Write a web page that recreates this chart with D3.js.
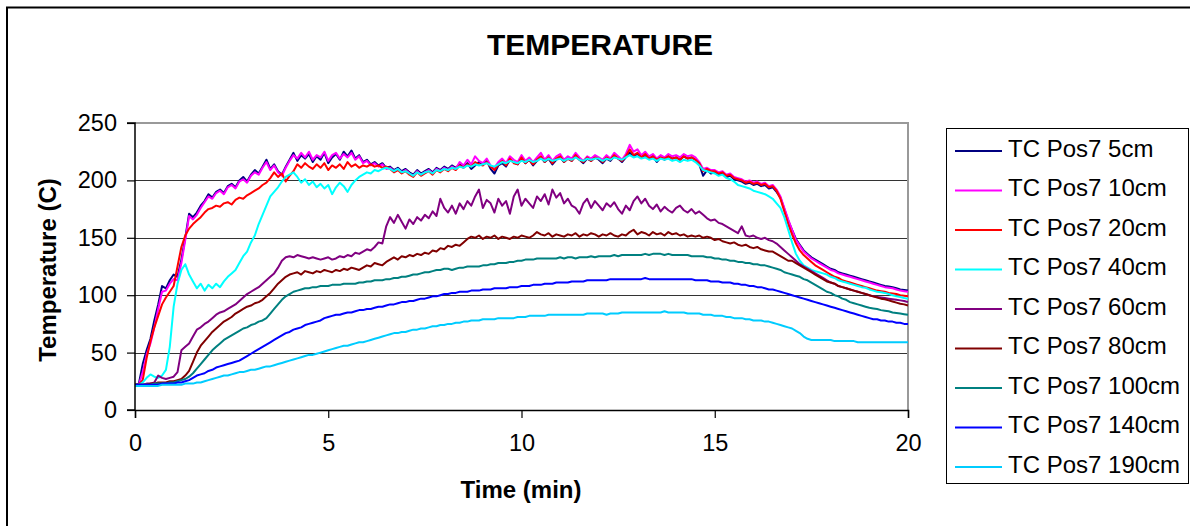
<!DOCTYPE html>
<html><head><meta charset="utf-8">
<script src="https://cdn.jsdelivr.net/npm/d3@7"></script>
<style>html,body{margin:0;padding:0;background:#fff;overflow:hidden}</style>
</head><body>
<svg id="chart" width="1190" height="526"></svg>
<script>
// ---- DATA ----
const timeMin = [
0,0.1,0.2,0.3,0.4,0.5,0.6,0.7,0.8,0.9,
1,1.1,1.2,1.3,1.4,1.5,1.6,1.7,1.8,1.9,
2,2.1,2.2,2.3,2.4,2.5,2.6,2.7,2.8,2.9,
3,3.1,3.2,3.3,3.4,3.5,3.6,3.7,3.8,3.9,
4,4.1,4.2,4.3,4.4,4.5,4.6,4.7,4.8,4.9,
5,5.1,5.2,5.3,5.4,5.5,5.6,5.7,5.8,5.9,
6,6.1,6.2,6.3,6.4,6.5,6.6,6.7,6.8,6.9,
7,7.1,7.2,7.3,7.4,7.5,7.6,7.7,7.8,7.9,
8,8.1,8.2,8.3,8.4,8.5,8.6,8.7,8.8,8.9,
9,9.1,9.2,9.3,9.4,9.5,9.6,9.7,9.8,9.9,
10,10.1,10.2,10.3,10.4,10.5,10.6,10.7,10.8,10.9,
11,11.1,11.2,11.3,11.4,11.5,11.6,11.7,11.8,11.9,
12,12.1,12.2,12.3,12.4,12.5,12.6,12.7,12.8,12.9,
13,13.1,13.2,13.3,13.4,13.5,13.6,13.7,13.8,13.9,
14,14.1,14.2,14.3,14.4,14.5,14.6,14.7,14.8,14.9,
15,15.1,15.2,15.3,15.4,15.5,15.6,15.7,15.8,15.9,
16,16.1,16.2,16.3,16.4,16.5,16.6,16.7,16.8,16.9,
17,17.1,17.2,17.3,17.4,17.5,17.6,17.7,17.8,17.9,
18,18.1,18.2,18.3,18.4,18.5,18.6,18.7,18.8,18.9,
19,19.1,19.2,19.3,19.4,19.5,19.6,19.7,19.8,19.9,
20];

const seriesNames = ["TC Pos7 5cm","TC Pos7 10cm","TC Pos7 20cm","TC Pos7 40cm","TC Pos7 60cm","TC Pos7 80cm","TC Pos7 100cm","TC Pos7 140cm","TC Pos7 190cm"];

const tc5 = [
22,23,40,52,62,78,92,108,106,113,
118,116,131,150,171,168,172,178,182,188,
185,190,192,189,195,197,194,200,203,199,
205,209,206,212,218,210,214,208,205,212,
218,224,217,222,219,223,216,221,218,224,
215,220,223,218,225,221,226,219,222,216,
218,214,216,213,215,211,212,209,211,208,
210,207,205,209,206,208,210,207,211,209,
212,210,213,211,214,212,215,210,213,216,
214,217,210,206,213,215,212,218,216,214,
219,215,218,213,217,220,216,219,214,218,
220,216,219,217,221,218,215,219,217,220,
218,215,219,217,221,219,216,220,224,221,
223,220,222,219,221,216,220,218,221,219,
220,218,221,219,220,218,214,204,209,206,
207,205,206,203,204,201,200,199,197,198,
196,197,195,196,193,194,190,185,175,165,
157,149,144,139,136,133,131,129,127,125,
123,122,120,119,118,117,116,115,114,113,
112,111,110,109,108,107.5,107,106,105,104.5,
104];

const tc10 = [
22,22,33,48,58,72,88,103,104,110,
114,113,128,148,169,166,170,176,181,186,
184,189,191,188,194,196,193,199,201,198,
204,207,205,211,216,209,213,207,204,211,
217,222,219,224,220,225,218,222,220,225,
217,222,224,219,223,220,224,218,221,215,
217,213,215,212,214,210,211,208,210,207,
209,206,204,208,205,207,209,206,210,208,
211,209,212,210,216,213,218,214,221,217,
215,219,213,211,216,219,215,221,218,216,
222,217,220,216,220,224,218,222,217,221,
223,218,221,219,224,220,217,221,219,222,
220,218,222,219,224,221,218,223,231,225,
227,222,225,221,223,219,222,220,223,221,
222,220,223,221,222,220,216,210,211,209,
209,207,208,205,206,203,202,201,199,200,
198,199,197,198,195,196,192,186,176,166,
157,148,143,138,135,132,130,128,126,124,
122,121,119,118,117,116,115,114,113,112,
111,110,109,108,107,106.5,106,105,104,103.5,
103];

const tc20 = [
22,22,26,45,60,72,82,92,98,103,
108,125,142,152,158,162,165,168,172,175,
176,178,177,180,181,179,183,185,184,187,
189,191,193,196,198,202,207,203,206,199,
204,208,214,211,215,212,210,214,211,215,
209,213,211,214,210,216,212,214,211,213,
212,214,212,213,211,212,210,207,209,206,
208,205,203,207,204,206,208,205,209,207,
210,208,211,209,213,211,214,212,216,214,
213,216,212,209,214,217,213,219,215,214,
220,215,218,214,218,221,216,220,215,219,
221,216,219,217,222,218,216,220,217,220,
219,216,220,218,222,219,217,221,227,222,
224,220,223,219,221,218,220,219,221,219,
220,218,221,219,220,218,215,208,210,208,
208,206,207,204,205,202,201,200,198,199,
197,198,196,197,194,195,191,184,173,162,
153,145,139,135,132,129,126,124,122,120,
118,116,115,113,112,111,110,109,108,107,
106,105,104,103.5,103,102,101.5,101,100,99.5,
99];

const tc40 = [
22,22,24,28,31,29,28,30,35,55,
90,110,122,127,118,112,106,110,104,109,
106,110,107,112,116,119,122,128,134,138,
146,152,162,170,178,186,190,194,199,203,
205,207,203,198,201,196,199,194,197,193,
196,188,194,198,195,190,196,200,203,205,
207,206,209,208,210,211,210,208,210,207,
208,206,204,207,205,207,208,206,209,208,
210,209,211,210,212,211,213,212,214,213,
214,215,213,212,214,216,215,217,216,215,
217,216,218,216,217,219,217,219,217,218,
219,217,219,218,220,218,217,219,218,219,
219,217,219,218,220,219,218,220,222,220,
221,219,220,218,219,217,219,218,219,217,
218,216,218,217,218,216,213,209,208,207,
206,204,205,202,201,199,196,195,194,193,
191,190,189,188,186,184,180,176,168,157,
146,136,130,126,124,122,121,120,119,118,
116,115,113,112,111,110,109,108,107,106.5,
105,104,103,102.5,102,101,100,99,98.5,97.5,
97];

const tc60 = [
22,22,22,23,23,24,30,28,27,28,
29,33,52,55,58,64,70,72,75,77,
80,83,85,86,88,90,92,95,98,101,
103,105,107,110,113,116,119,124,130,133,
134,133,135,134,133,132,133,132,131,132,
133,131,132,134,133,135,134,137,136,138,
140,139,142,146,145,160,168,163,170,164,
158,166,162,168,165,170,167,173,169,184,
176,172,178,171,180,175,182,178,186,192,
176,183,180,172,184,178,182,171,186,192,
178,184,180,176,186,182,188,179,192,185,
189,180,184,178,176,171,180,184,176,182,
178,174,180,177,181,175,171,178,174,182,
186,180,184,178,175,179,173,177,174,172,
176,178,174,172,175,171,173,170,167,165,
166,163,162,160,158,156,154,160,152,151,
152,150,149,150,148,147,145,142,139,136,
133,130,127,125,123,121,119,117,115,113,
111,110,108,107,106,105,104,103,102,101,
100,99,98.5,98,97.5,97,96.5,96,95.5,95,
94];

const tc80 = [
22,22,22,22,23,23,24,24,24,25,
25,26,27,30,34,42,50,56,60,64,
68,71,74,77,79,81,84,86,88,90,
91,93,94,96,99,102,106,110,113,116,
118,119,120,118,121,120,119,121,120,122,
121,120,122,121,123,122,124,123,122,124,
126,125,128,127,126,129,131,133,131,134,
133,135,134,136,135,137,136,139,138,141,
140,143,142,144,143,146,149,151,150,152,
149,151,150,152,149,151,150,149,151,150,
152,151,150,152,155,153,152,154,151,153,
152,151,153,152,154,151,153,152,154,153,
151,153,152,154,152,151,153,152,155,157,
153,155,154,152,155,153,154,152,155,153,
154,152,153,151,152,151,152,150,151,150,
148,149,147,146,145,146,144,143,144,142,
141,142,140,139,138,138,136,134,132,130,
130,128,126,124,122,120,118,116,114,112,
111,110,108,107,106,105,104,103,102,101,
100,99,98,97,96.5,95.5,94.5,93.5,92.5,92,
91];

const tc100 = [
22,22,22,22,22,23,23,23,23,24,
24,25,26,27,29,32,36,40,44,48,
52,55,58,61,63,65,67,69,71,72,
74,75,77,78,80,84,88,92,96,99,
101,103,104,105,106,106,107,107,108,108,
108,109,109,109,110,110,110,110,111,111,
112,112,113,113,113,114,114,115,115,116,
116,117,118,118,119,120,120,121,122,122,
123,123,122,123,124,124,125,125,125,125,
126,126,127,127,128,128,128,129,129,130,
130,131,131,131,132,132,132,132,132,132,
133,132,133,133,132,133,133,133,134,133,
134,134,134,134,135,134,135,135,135,135,
135,135,136,135,136,136,136,135,136,135,
135,135,135,135,134,134,134,134,133,133,
132,132,131,131,130,130,129,129,128,128,
127,127,126,126,125,124,123,122,120,119,
118,117,116,114,113,111,109,107,105,103,
102,100,99,97,96,94,93,92,91,90,
89,88.5,88,87,86.5,86,85,84.5,84,83.5,
83];

const tc140 = [
22,22,22,22,22,22,22,23,23,23,
23,24,24,25,26,28,30,31,32,34,
35,37,38,39,40,41,42,43,45,47,
49,51,53,55,57,59,61,63,65,67,
68,70,71,72,74,75,76,77,78,80,
81,82,83,83,84,85,85,86,87,87,
88,88,89,90,90,91,92,92,93,94,
94,95,95,96,97,97,98,99,99,100,
101,101,102,102,103,103,103,104,104,104,
105,105,105,106,106,106,106,107,107,107,
108,108,108,109,109,109,110,110,110,111,
111,111,111,112,112,112,112,113,113,113,
113,113,113,114,114,114,114,114,114,114,
114,114,115,114,114,114,114,114,114,114,
114,114,114,114,114,113,113,113,113,112,
112,112,111,111,111,110,110,109,109,108,
108,107,107,106,105,105,104,103,102,101,
100,99,98,97,96,95,94,93,92,91,
90,89,88,87,86,85,84,83,82,81,
80,79,79,78,78,77,77,76,76,75,
75];

const tc190 = [
21,21,21,21,21,21,21,22,22,22,
22,22,22,23,23,23,24,24,25,26,
27,28,29,30,30,31,32,33,33,34,
35,35,36,37,38,38,39,40,41,42,
43,44,45,46,47,48,48,49,50,51,
52,53,54,55,56,56,57,58,59,59,
60,61,62,63,64,65,66,67,67,68,
68,69,70,70,71,71,72,73,73,74,
74,75,75,76,76,77,77,78,78,78,
79,79,79,79,80,80,80,80,80,81,
81,81,82,82,82,82,82,83,83,83,
83,83,83,83,83,83,83,84,84,84,
84,84,83,84,84,84,85,85,85,85,
85,85,85,85,85,85,85,86,85,85,
85,85,85,84,84,84,84,83,83,83,
82,82,82,81,81,80,80,80,79,79,
78,78,78,77,77,76,75,74,73,72,
71,69,67,64,62,61,61,61,61,61,
61,60,60,60,60,60,60,59,59,59,
59,59,59,59,59,59,59,59,59,59,
59];

const seriesValues = [tc5, tc10, tc20, tc40, tc60, tc80, tc100, tc140, tc190];
const seriesColors = ["#000080","#FF00FF","#FF0000","#00FFFF","#800080","#800000","#008080","#0000FF","#00CCFF"];
const yTicks = [0, 50, 100, 150, 200, 250];
const xTicks = [0, 5, 10, 15, 20];

// ---- DRAW ----
const FONT = "'Liberation Sans', Arial, Helvetica, sans-serif";
const svg = d3.select("#chart");
svg.append("rect").attr("x", 0).attr("y", 0).attr("width", 1190).attr("height", 526).attr("fill", "#fff");
// outer chart frame
svg.append("rect").attr("x", 7).attr("y", 7.5).attr("width", 1300).attr("height", 700)
  .attr("fill", "none").attr("stroke", "#000").attr("stroke-width", 2);

const plot = {left: 135, right: 908, top: 123, bottom: 410};
const x = d3.scaleLinear().domain([0, 20]).range([plot.left, plot.right]);
const y = d3.scaleLinear().domain([0, 250]).range([plot.bottom, plot.top]);

// gridlines
svg.append("g").selectAll("line").data(yTicks.filter(d => d > 0 && d < 250)).join("line")
  .attr("x1", plot.left).attr("x2", plot.right)
  .attr("y1", d => Math.round(y(d)) + 0.5).attr("y2", d => Math.round(y(d)) + 0.5)
  .attr("stroke", "#333").attr("stroke-width", 1);

// plot border (top/right)
svg.append("path")
  .attr("d", `M${plot.left},${plot.top} H${plot.right} V${plot.bottom}`)
  .attr("fill", "none").attr("stroke", "#999").attr("stroke-width", 2);

// lines
const clip = svg.append("clipPath").attr("id", "clip").append("rect")
  .attr("x", plot.left).attr("y", plot.top - 2).attr("width", plot.right - plot.left + 1).attr("height", plot.bottom - plot.top + 2);
const lineGen = d3.line().x((d, i) => x(timeMin[i])).y(d => y(d));
const gLines = svg.append("g").attr("clip-path", "url(#clip)");
seriesValues.forEach((vals, k) => {
  gLines.append("path").datum(vals)
    .attr("d", lineGen)
    .attr("fill", "none").attr("stroke", seriesColors[k]).attr("stroke-width", 2)
    .attr("stroke-linejoin", "round");
});

// axes
const yAxis = d3.axisLeft(y).tickValues(yTicks).tickSize(8).tickPadding(10).tickFormat(d3.format("d"));
const gy = svg.append("g").attr("transform", `translate(${plot.left},0)`).call(yAxis);
const xAxis = d3.axisBottom(x).tickValues(xTicks).tickSize(8).tickPadding(16).tickFormat(d3.format("d"));
const gx = svg.append("g").attr("transform", `translate(0,${plot.bottom})`).call(xAxis);
[gx, gy].forEach(g => {
  g.select(".domain").attr("stroke", "#000").attr("stroke-width", 1.5);
  g.selectAll(".tick line").attr("stroke", "#000").attr("stroke-width", 1.2);
  g.selectAll(".tick text").attr("font-family", FONT).attr("font-size", 23.5).attr("fill", "#000");
});
gy.select(".domain").attr("d", `M-8,${plot.bottom}H0V${plot.top}H-8`);

// title & axis titles
svg.append("text").attr("x", 600).attr("y", 55).attr("text-anchor", "middle")
  .attr("font-family", FONT).attr("font-weight", "bold").attr("font-size", 30).text("TEMPERATURE");
svg.append("text").attr("x", 521).attr("y", 498).attr("text-anchor", "middle")
  .attr("font-family", FONT).attr("font-weight", "bold").attr("font-size", 24).text("Time (min)");
svg.append("text").attr("transform", "translate(56,270) rotate(-90)").attr("text-anchor", "middle")
  .attr("font-family", FONT).attr("font-weight", "bold").attr("font-size", 24).text("Temperature (C)");

// legend
const lg = svg.append("g");
lg.append("rect").attr("x", 946.5).attr("y", 128.5).attr("width", 242).attr("height", 355)
  .attr("fill", "#fff").attr("stroke", "#000").attr("stroke-width", 1);
const rowY = d3.scaleLinear().domain([0, 8]).range([151, 467]);
seriesNames.forEach((name, k) => {
  const yy = rowY(k);
  lg.append("line").attr("x1", 955).attr("x2", 1002).attr("y1", yy).attr("y2", yy)
    .attr("stroke", seriesColors[k]).attr("stroke-width", 2);
  lg.append("text").attr("x", 1008).attr("y", yy + 5.5)
    .attr("font-family", FONT).attr("font-size", 24).attr("fill", "#000").text(name);
});
</script>
</body></html>
